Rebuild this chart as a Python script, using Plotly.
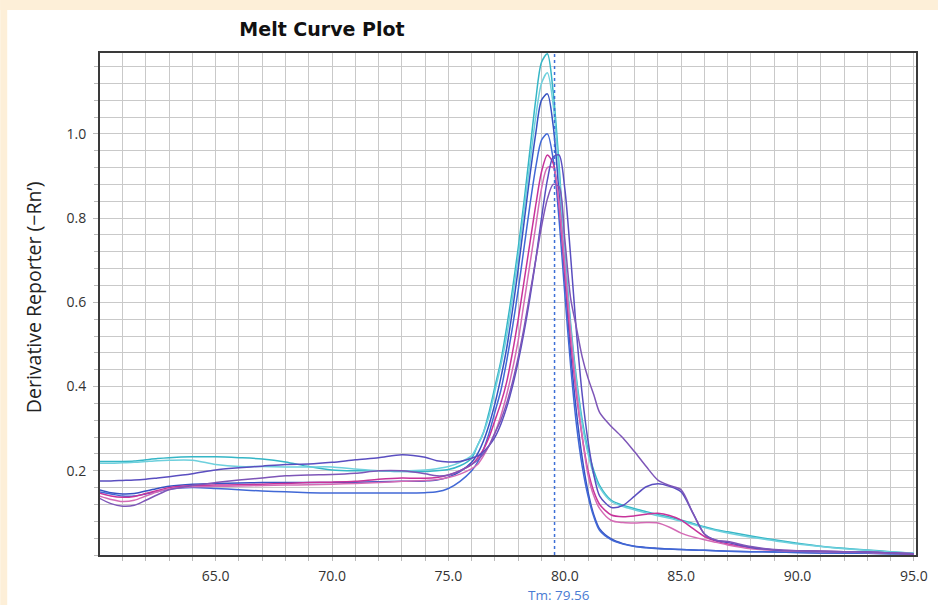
import plotly.graph_objects as go

# Temperature (°C) sample positions
temperature = [60, 60.5, 61, 61.5, 62, 62.5, 63, 64, 65, 66, 67, 68, 69, 70, 71, 72, 73, 74,
               74.5, 75, 75.5, 76, 76.25, 76.5, 76.75, 77, 77.25, 77.5, 77.75, 78, 78.25, 78.5,
               78.75, 79, 79.25, 79.5, 79.75, 80, 80.25, 80.5, 80.75, 81, 81.25, 81.5, 82, 82.5,
               83, 83.5, 84, 84.5, 85, 85.5, 86, 86.5, 87, 88, 89, 90, 91, 92, 93, 94, 95]

teal_1 = [0.222, 0.222, 0.222, 0.223, 0.226, 0.229, 0.231, 0.233, 0.233, 0.231, 0.228, 0.221, 0.21, 0.202, 0.2, 0.2, 0.198, 0.198,
          0.2, 0.203, 0.212, 0.23, 0.26, 0.29, 0.34, 0.40, 0.46, 0.54, 0.63, 0.73, 0.84, 0.96,
          1.08, 1.17, 1.19, 1.10, 0.93, 0.72, 0.55, 0.42, 0.32, 0.25, 0.20, 0.165, 0.13, 0.118,
          0.11, 0.103, 0.096, 0.09, 0.083, 0.075, 0.067, 0.06, 0.055, 0.045, 0.036, 0.028, 0.021, 0.016, 0.012, 0.008, 0.004]

cyan_2 = [0.218, 0.218, 0.219, 0.22, 0.222, 0.224, 0.225, 0.225, 0.215, 0.21, 0.21, 0.209, 0.209, 0.209, 0.204, 0.2, 0.2, 0.202,
          0.205, 0.21, 0.22, 0.236, 0.26, 0.29, 0.33, 0.39, 0.45, 0.52, 0.61, 0.71, 0.82, 0.93,
          1.04, 1.12, 1.145, 1.07, 0.91, 0.71, 0.54, 0.41, 0.31, 0.24, 0.19, 0.16, 0.127, 0.115,
          0.107, 0.10, 0.093, 0.087, 0.08, 0.073, 0.065, 0.058, 0.052, 0.042, 0.034, 0.026, 0.02, 0.015, 0.011, 0.007, 0.004]

blue_1 = [0.155, 0.148, 0.145, 0.146, 0.152, 0.158, 0.163, 0.168, 0.17, 0.171, 0.172, 0.172, 0.172, 0.172, 0.173, 0.174, 0.175, 0.176,
          0.178, 0.185, 0.198, 0.22, 0.24, 0.27, 0.31, 0.36, 0.42, 0.49, 0.58, 0.68, 0.79, 0.90,
          1.00, 1.08, 1.095, 1.02, 0.86, 0.66, 0.48, 0.34, 0.23, 0.15, 0.095, 0.062, 0.038, 0.027,
          0.021, 0.018, 0.016, 0.014, 0.013, 0.012, 0.011, 0.01, 0.009, 0.008, 0.007, 0.006, 0.005, 0.005, 0.004, 0.003, 0.002]

blue_2 = [0.15, 0.145, 0.14, 0.14, 0.145, 0.15, 0.156, 0.16, 0.158, 0.155, 0.152, 0.15, 0.148, 0.147, 0.147, 0.147, 0.147, 0.148,
          0.15, 0.158, 0.175, 0.20, 0.22, 0.25, 0.29, 0.34, 0.39, 0.46, 0.54, 0.63, 0.73, 0.83,
          0.92, 0.985, 1.0, 0.94, 0.80, 0.62, 0.45, 0.31, 0.21, 0.14, 0.09, 0.058, 0.036, 0.026,
          0.02, 0.017, 0.015, 0.014, 0.013, 0.012, 0.011, 0.01, 0.009, 0.008, 0.007, 0.006, 0.005, 0.004, 0.004, 0.003, 0.002]

magenta_1 = [0.147, 0.14, 0.137, 0.139, 0.146, 0.153, 0.16, 0.165, 0.166, 0.167, 0.168, 0.17, 0.172, 0.173, 0.175, 0.18, 0.183, 0.182,
             0.184, 0.19, 0.20, 0.215, 0.23, 0.25, 0.28, 0.32, 0.36, 0.41, 0.48, 0.56, 0.65, 0.74,
             0.83, 0.91, 0.95, 0.93, 0.83, 0.67, 0.51, 0.38, 0.28, 0.20, 0.15, 0.12, 0.095, 0.091,
             0.093, 0.097, 0.099, 0.094, 0.083, 0.063, 0.044, 0.033, 0.026, 0.017, 0.012, 0.01, 0.009, 0.008, 0.007, 0.005, 0.003]

pink_2 = [0.14, 0.132, 0.127, 0.13, 0.14, 0.15, 0.157, 0.162, 0.163, 0.164, 0.165, 0.166, 0.167, 0.168, 0.17, 0.172, 0.175, 0.177,
          0.179, 0.184, 0.192, 0.205, 0.215, 0.235, 0.26, 0.29, 0.33, 0.38, 0.44, 0.51, 0.60, 0.69,
          0.78, 0.87, 0.92, 0.92, 0.84, 0.69, 0.53, 0.39, 0.28, 0.19, 0.14, 0.11, 0.082, 0.077,
          0.076, 0.077, 0.076, 0.066, 0.052, 0.043, 0.036, 0.03, 0.024, 0.015, 0.011, 0.009, 0.008, 0.007, 0.006, 0.004, 0.003]

violet_1 = [0.176, 0.176, 0.177, 0.178, 0.18, 0.183, 0.186, 0.193, 0.202, 0.207, 0.211, 0.215, 0.216, 0.22, 0.226, 0.231, 0.238, 0.232,
            0.224, 0.221, 0.222, 0.23, 0.235, 0.245, 0.26, 0.28, 0.31, 0.35, 0.40, 0.46, 0.53, 0.61,
            0.70, 0.80, 0.89, 0.945, 0.95, 0.87, 0.71, 0.53, 0.38, 0.27, 0.19, 0.14, 0.113, 0.118,
            0.14, 0.162, 0.169, 0.163, 0.15, 0.10, 0.05, 0.035, 0.03, 0.018, 0.012, 0.01, 0.009, 0.008, 0.007, 0.005, 0.003]

purple_2 = [0.135, 0.122, 0.116, 0.118, 0.13, 0.143, 0.155, 0.165, 0.172, 0.178, 0.183, 0.188, 0.19, 0.191, 0.194, 0.2, 0.2, 0.193,
            0.188, 0.19, 0.20, 0.215, 0.225, 0.24, 0.26, 0.29, 0.32, 0.36, 0.41, 0.47, 0.54, 0.62,
            0.70, 0.78, 0.845, 0.88, 0.875, 0.75, 0.61, 0.54, 0.47, 0.42, 0.38, 0.338, 0.305, 0.278,
            0.245, 0.21, 0.178, 0.165, 0.155, 0.10, 0.05, 0.035, 0.032, 0.02, 0.013, 0.01, 0.009, 0.008, 0.007, 0.005, 0.003]

series = [
    ("Well A", teal_1, "#35B6C6"),
    ("Well B", cyan_2, "#6ED0DD"),
    ("Well C", blue_1, "#3652C2"),
    ("Well D", blue_2, "#4168D6"),
    ("Well E", magenta_1, "#C7339A"),
    ("Well F", pink_2, "#D46BB5"),
    ("Well G", violet_1, "#5A4EC0"),
    ("Well H", purple_2, "#7E56B8"),
]

tm_value = 79.56
x_ticks = [65, 70, 75, 80, 85, 90, 95]
y_ticks = [0.2, 0.4, 0.6, 0.8, 1.0]

fig = go.Figure()
for name, vals, col in series:
    fig.add_trace(go.Scatter(x=temperature, y=vals, mode="lines", name=name,
                             line=dict(color=col, width=1.5, shape="spline", smoothing=0.8),
                             showlegend=False))

grid_col = "#C9C9C9"
fig.update_layout(
    width=940, height=605,
    margin=dict(l=100, r=22, t=53, b=50),
    paper_bgcolor="white", plot_bgcolor="white",
    font=dict(family="Open Sans, sans-serif", color="#333333"),
    title=dict(text="<b>Melt Curve Plot</b>", x=322/940, xref="container", xanchor="center",
               y=1 - 29/605, yref="container", yanchor="middle",
               font=dict(family="DejaVu Sans", size=19, color="#111111")),
    xaxis=dict(range=[60.03, 95.09], tickmode="array", tickvals=x_ticks,
               ticktext=[f"{v:.1f}" for v in x_ticks],
               showgrid=True, gridcolor=grid_col, gridwidth=1,
               ticks="outside", ticklen=4, tickcolor="#BBBBBB", ticklabelstandoff=3,
               showline=True, linecolor="#3A3A3A", linewidth=2, mirror=True,
               tickfont=dict(size=14, color="#333333"),
               minor=dict(dtick=1, tick0=60, showgrid=True, gridcolor=grid_col,
                          ticks="outside", ticklen=4, tickcolor="#BBBBBB"),
               zeroline=False),
    yaxis=dict(range=[0, 1.192], tickmode="array", tickvals=y_ticks,
               ticktext=[f"{v:.1f}" for v in y_ticks],
               showgrid=True, gridcolor=grid_col, gridwidth=1,
               ticks="outside", ticklen=5, tickcolor="#BBBBBB", ticklabelstandoff=4,
               showline=True, linecolor="#3A3A3A", linewidth=2, mirror=True,
               tickfont=dict(size=14, color="#333333"),
               minor=dict(dtick=0.04, tick0=0, showgrid=True, gridcolor=grid_col,
                          ticks="outside", ticklen=4, tickcolor="#BBBBBB"),
               zeroline=False),
)

# Tm marker line
fig.add_shape(type="line", xref="x", yref="paper", x0=tm_value, x1=tm_value, y0=0, y1=1,
              line=dict(color="#3D6FD6", width=1.5, dash="dot"), layer="above")
fig.add_annotation(x=tm_value, y=(555 - 595) / 502, xref="x", yref="paper", text=f"Tm: {tm_value:.2f}",
                   showarrow=False, xanchor="center", yanchor="middle", xshift=4,
                   font=dict(size=13.5, color="#4A7BD3"))

# y-axis title
fig.add_annotation(x=(33 - 100) / 818, y=(555 - 297) / 502, xref="paper", yref="paper",
                   text="Derivative Reporter (−Rn’)", textangle=-90, showarrow=False,
                   xanchor="center", yanchor="middle",
                   font=dict(size=19.5, color="#222222", family="Open Sans, sans-serif"))

# cream frame strips (left and top)
cream = "#FDEFD8"
fig.add_shape(type="rect", xref="paper", yref="paper", x0=-100/818, x1=(7-100)/818,
              y0=(555-605)/502, y1=555/502, fillcolor=cream, line=dict(width=0), layer="below")
fig.add_shape(type="rect", xref="paper", yref="paper", x0=-100/818, x1=(940-100)/818,
              y0=(555-10)/502, y1=555/502, fillcolor=cream, line=dict(width=0), layer="below")

fig.write_html("out.html", config={"displayModeBar": False},
               post_script="document.body.style.margin='0px';")
